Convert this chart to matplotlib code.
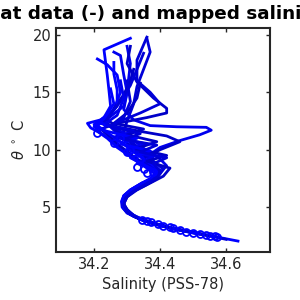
import numpy as np
import matplotlib
matplotlib.use('Agg')
from matplotlib import pyplot as plt

# float profiles, deep -> surface (salinity, potential temperature)
sal_p1 = [34.636, 34.573, 34.52, 34.46, 34.41, 34.37, 34.345, 34.30, 34.285, 34.283, 34.29, 34.31, 34.345, 34.39, 34.40, 34.37, 34.33, 34.29, 34.26, 34.23, 34.19, 34.18, 34.22, 34.26, 34.28, 34.27, 34.24, 34.21]
tht_p1 = [2.05, 2.4, 2.67, 3.0, 3.37, 3.7, 3.9, 4.5, 5.0, 5.5, 6.0, 6.5, 7.1, 7.6, 8.0, 8.6, 9.2, 9.9, 10.6, 11.3, 11.9, 12.3, 12.6, 13.5, 15.0, 16.5, 17.4, 17.9]
sal_p2 = [34.60, 34.55, 34.50, 34.45, 34.40, 34.36, 34.34, 34.305, 34.29, 34.288, 34.295, 34.315, 34.35, 34.385, 34.395, 34.36, 34.34, 34.31, 34.29, 34.30, 34.32, 34.33, 34.35, 34.37, 34.36]
tht_p2 = [2.2, 2.5, 2.75, 3.05, 3.4, 3.75, 3.95, 4.5, 5.0, 5.5, 6.0, 6.5, 7.1, 7.6, 8.1, 8.9, 9.7, 10.6, 11.5, 12.5, 14.0, 15.5, 17.0, 18.5, 19.7]
sal_p3 = [34.57, 34.53, 34.49, 34.44, 34.40, 34.36, 34.34, 34.30, 34.288, 34.285, 34.29, 34.31, 34.345, 34.385, 34.40, 34.38, 34.37, 34.40, 34.46, 34.52, 34.555, 34.54, 34.45, 34.37, 34.32, 34.29, 34.30, 34.31, 34.30]
tht_p3 = [2.45, 2.65, 2.9, 3.15, 3.45, 3.75, 3.95, 4.5, 5.0, 5.5, 6.0, 6.5, 7.1, 7.6, 8.1, 8.8, 9.6, 10.2, 10.8, 11.3, 11.7, 11.95, 12.0, 12.1, 12.6, 13.5, 15.0, 17.5, 19.0]
sal_p4 = [34.55, 34.51, 34.47, 34.42, 34.38, 34.35, 34.31, 34.29, 34.287, 34.293, 34.31, 34.34, 34.38, 34.395, 34.35, 34.32, 34.28, 34.25, 34.22, 34.27, 34.36, 34.42, 34.42, 34.38, 34.33, 34.30, 34.31]
tht_p4 = [2.5, 2.75, 2.95, 3.25, 3.55, 3.85, 4.4, 4.9, 5.4, 5.9, 6.4, 6.9, 7.4, 8.0, 8.7, 9.4, 10.3, 11.1, 11.8, 12.3, 12.8, 13.2, 13.6, 14.5, 15.9, 17.5, 19.0]
sal_p5 = [34.52, 34.48, 34.43, 34.39, 34.355, 34.32, 34.295, 34.287, 34.29, 34.305, 34.335, 34.37, 34.39, 34.35, 34.31, 34.27, 34.24, 34.21, 34.20, 34.23, 34.25, 34.245, 34.24, 34.23, 34.27, 34.31]
tht_p5 = [2.65, 2.9, 3.2, 3.5, 3.8, 4.2, 4.7, 5.2, 5.7, 6.2, 6.7, 7.2, 7.8, 8.6, 9.4, 10.2, 11.0, 11.6, 12.2, 12.8, 13.8, 15.2, 16.5, 18.7, 19.2, 19.7]
sal_p6 = [34.49, 34.45, 34.41, 34.37, 34.34, 34.31, 34.29, 34.285, 34.295, 34.32, 34.355, 34.385, 34.40, 34.37, 34.35, 34.33, 34.30, 34.27, 34.25, 34.28, 34.34, 34.40, 34.37, 34.33, 34.33, 34.36]
tht_p6 = [2.85, 3.1, 3.4, 3.7, 3.95, 4.4, 4.9, 5.4, 5.9, 6.4, 6.9, 7.4, 8.0, 8.5, 9.1, 9.8, 10.6, 11.4, 12.0, 12.5, 13.2, 14.0, 15.0, 16.0, 17.8, 19.8]
sal_p7 = [34.46, 34.42, 34.38, 34.35, 34.32, 34.30, 34.29, 34.30, 34.325, 34.36, 34.39, 34.40, 34.42, 34.40, 34.36, 34.33, 34.30, 34.26, 34.22, 34.25, 34.29, 34.30, 34.29, 34.28, 34.26]
tht_p7 = [3.0, 3.3, 3.6, 3.9, 4.3, 4.8, 5.3, 5.9, 6.5, 7.0, 7.5, 8.0, 8.6, 9.2, 9.9, 10.6, 11.3, 11.9, 12.3, 12.9, 13.8, 15.0, 16.5, 18.2, 18.5]
sal_p8 = [34.43, 34.40, 34.36, 34.33, 34.305, 34.29, 34.292, 34.31, 34.34, 34.375, 34.395, 34.38, 34.35, 34.40, 34.46, 34.42, 34.34, 34.27, 34.24, 34.26, 34.29, 34.31, 34.32]
tht_p8 = [3.2, 3.45, 3.75, 4.1, 4.6, 5.2, 5.8, 6.3, 6.8, 7.3, 7.9, 8.5, 9.3, 10.0, 10.7, 11.2, 11.6, 12.0, 12.6, 13.6, 14.8, 16.0, 17.0]
sal_p9 = [34.41, 34.37, 34.34, 34.31, 34.295, 34.288, 34.293, 34.31, 34.345, 34.385, 34.40, 34.36, 34.32, 34.28, 34.24, 34.21, 34.24, 34.27, 34.27, 34.26, 34.26]
tht_p9 = [3.35, 3.7, 3.95, 4.35, 4.85, 5.35, 5.85, 6.35, 6.95, 7.5, 8.2, 9.0, 9.8, 10.7, 11.5, 12.1, 12.8, 13.8, 15.2, 16.6, 17.6]
sal_p10 = [34.39, 34.355, 34.325, 34.30, 34.288, 34.29, 34.30, 34.33, 34.36, 34.39, 34.41, 34.38, 34.35, 34.33, 34.30, 34.27, 34.25, 34.23, 34.25, 34.28, 34.31, 34.33, 34.35]
tht_p10 = [3.5, 3.8, 4.15, 4.6, 5.1, 5.6, 6.1, 6.6, 7.0, 7.5, 8.3, 9.0, 9.6, 10.3, 11.0, 11.6, 12.1, 12.5, 13.1, 14.2, 15.6, 17.0, 18.4]
sal_p11 = [34.38, 34.34, 34.31, 34.29, 34.287, 34.295, 34.32, 34.35, 34.38, 34.40, 34.33, 34.38, 34.30, 34.36, 34.26, 34.32, 34.23, 34.27, 34.29, 34.28]
tht_p11 = [3.6, 4.0, 4.4, 4.9, 5.4, 5.9, 6.4, 6.9, 7.4, 8.2, 8.8, 9.4, 10.0, 10.5, 11.1, 11.6, 12.2, 13.0, 14.5, 16.0]
sal_p12 = [34.36, 34.32, 34.30, 34.29, 34.30, 34.33, 34.37, 34.41, 34.43, 34.36, 34.42, 34.33, 34.39, 34.30, 34.35, 34.26, 34.30, 34.33, 34.34]
tht_p12 = [3.8, 4.2, 4.7, 5.3, 5.9, 6.5, 7.1, 7.7, 8.4, 9.0, 9.5, 10.1, 10.7, 11.3, 11.8, 12.3, 13.2, 14.5, 15.8]
sal_p13 = [34.345, 34.31, 34.292, 34.286, 34.292, 34.31, 34.34, 34.37, 34.39, 34.35, 34.31, 34.37, 34.28, 34.33, 34.24, 34.20, 34.23, 34.26, 34.25]
tht_p13 = [3.9, 4.4, 4.9, 5.5, 6.0, 6.5, 7.0, 7.5, 8.1, 8.7, 9.3, 9.9, 10.5, 11.0, 11.6, 12.0, 12.7, 14.0, 15.3]
sal_p14 = [34.33, 34.30, 34.29, 34.295, 34.315, 34.35, 34.385, 34.40, 34.38, 34.42, 34.34, 34.39, 34.29, 34.34, 34.25, 34.29, 34.31, 34.30]
tht_p14 = [4.1, 4.6, 5.2, 5.8, 6.3, 6.9, 7.5, 8.1, 8.8, 9.3, 9.8, 10.4, 10.9, 11.4, 12.0, 12.8, 14.2, 16.0]

# mapped salinity on theta levels
map_sal = [34.345, 34.373, 34.41, 34.44, 34.48, 34.52, 34.55, 34.565, 34.573, 34.36, 34.395, 34.43, 34.46, 34.50, 34.54,
           34.21, 34.26, 34.31, 34.33, 34.36, 34.30, 34.35, 34.22, 34.28, 34.34, 34.38]
map_tht = [3.88, 3.71, 3.37, 3.2, 2.85, 2.67, 2.5, 2.45, 2.4, 3.8, 3.5, 3.25, 3.0, 2.78, 2.55,
           11.5, 10.6, 10.0, 8.5, 8.0, 9.8, 8.3, 12.1, 11.0, 9.2, 8.1]

profiles = [(sal_p1, tht_p1), (sal_p2, tht_p2), (sal_p3, tht_p3), (sal_p4, tht_p4), (sal_p5, tht_p5),
            (sal_p6, tht_p6), (sal_p7, tht_p7), (sal_p8, tht_p8), (sal_p9, tht_p9), (sal_p10, tht_p10),
            (sal_p11, tht_p11), (sal_p12, tht_p12), (sal_p13, tht_p13), (sal_p14, tht_p14)]
shades = ['#0000ff', '#0000d8', '#0000ee', '#0000c8']

fig = plt.figure(figsize=(3, 3), dpi=100)
ax = fig.add_axes([0.187, 0.16, 0.713, 0.748])
for i, (s, t) in enumerate(profiles):
	ax.plot(s, t, '-', color=shades[i % len(shades)], lw=2)
ax.plot(map_sal, map_tht, 'o', mfc='none', mec='#0000ff', ms=5, mew=1.3)

ax.set_xlim(34.085, 34.733)
ax.set_ylim(1.1, 20.63)
ax.set_xticks([34.2, 34.4, 34.6])
ax.set_yticks([5, 10, 15, 20])
ax.tick_params(direction='in', top=True, right=True, length=3, width=1, colors='#262626', labelsize=10.5)
for sp in ax.spines.values():
	sp.set_linewidth(1.5)
	sp.set_color('#262626')
ax.set_xlabel('Salinity (PSS-78)', fontsize=10.5, color='#262626')
ax.set_ylabel(r'$\theta$ $^\circ$ C', fontsize=10.5, color='#262626')
ax.set_title('Float data (-) and mapped salinity (o)', fontsize=13.2, fontweight='bold', color='black')

fig.savefig('out.png', dpi=100)
